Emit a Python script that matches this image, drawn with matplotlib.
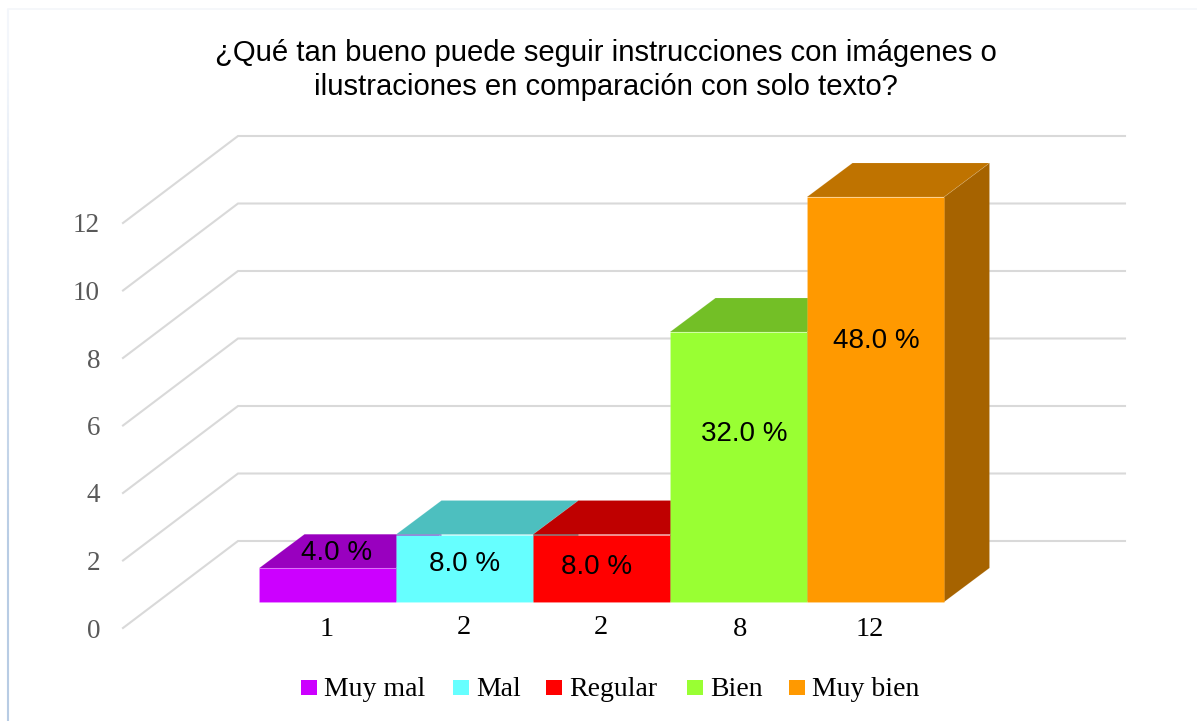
import matplotlib
matplotlib.use('Agg')
import matplotlib.pyplot as plt
import matplotlib.colors as mcolors
from matplotlib.patches import Polygon, Rectangle
from matplotlib.transforms import Affine2D

# Data
categories = ['Muy mal', 'Mal', 'Regular', 'Bien', 'Muy bien']
counts = [1, 2, 2, 8, 12]
percents = [4.0, 8.0, 8.0, 32.0, 48.0]
y_ticks = [0, 2, 4, 6, 8, 10, 12]
front_colors = ['#CC00FF', '#66FFFF', '#FF0000', '#99FF33', '#FF9900']
top_colors = ['#9900BF', '#4DBFBF', '#BF0000', '#73BF26', '#BF7300']
side_colors = ['#8500A6', '#42A6A6', '#A60000', '#63A621', '#A66300']

W, H = 1197, 721
BAR_PX = 137.0    # width of one category
UNIT_PX = 33.75   # height of one value unit
LEFT_PX = 259.0   # left edge of first bar
BASE_PX = 602.0   # y of value 0 on the bars front plane

fig = plt.figure(figsize=(W / 100, H / 100), dpi=100)
ax = fig.add_axes([0, 0, 1, 1])
ax.set_xlim(-LEFT_PX / BAR_PX - 0.5, (W - LEFT_PX) / BAR_PX - 0.5)
ax.set_ylim((BASE_PX - H) / UNIT_PX, BASE_PX / UNIT_PX)
ax.axis('off')

# pixel transform for the things that are only layout
px = Affine2D().scale(1, -1).translate(0, H)

# frame of the slide, fades out towards the top
for y in range(9, H, 8):
    t = min(max((y - 60) / 480, 0), 1)
    c = (1 - t) * mcolors.to_rgb('#F3F6FB')[0], (1 - t) * mcolors.to_rgb('#F3F6FB')[1], (1 - t) * mcolors.to_rgb('#F3F6FB')[2]
    c = tuple(ci + t * bi for ci, bi in zip(c, mcolors.to_rgb('#B8CCE4')))
    ax.plot([8, 8], [y, y + 8], color=c, lw=1.5, transform=px, zorder=1, solid_capstyle='butt')
ax.plot([8, 1197], [9, 9], color='#F4F6FA', lw=1.2, transform=px, zorder=1)

# depth of the bars and of the chart box, in data units
dx = 45.5 / BAR_PX
dy = 34.0 / UNIT_PX
wall_left = (238 - LEFT_PX) / BAR_PX - 0.5
wall_right = (1125 - LEFT_PX) / BAR_PX - 0.5
front_left = (123 - LEFT_PX) / BAR_PX - 0.5
wall_off = (BASE_PX - 541) / UNIT_PX
front_off = (BASE_PX - 628) / UNIT_PX

grid_color = '#D9D9D9'
for v in y_ticks:
    ax.plot([front_left, wall_left, wall_right],
            [v + front_off, v + wall_off, v + wall_off],
            color=grid_color, lw=1.5, zorder=2, solid_joinstyle='miter')
    # labels sit a little under the end of the line
    ax.text(front_left - 23 / BAR_PX, v + front_off - 3 / UNIT_PX, str(v), ha='right', va='center',
            fontsize=19.5, family='Liberation Serif', color='#595959')

# bars drawn left to right so each one covers the previous side
edge = (1, 1, 1, 0.12)
for i, v in enumerate(counts):
    x0, x1 = i - 0.5, i + 0.5
    ax.add_patch(Polygon([(x1, 0), (x1 + dx, dy), (x1 + dx, v + dy), (x1, v)],
                         fc=side_colors[i], ec=edge, lw=0.6, zorder=3))
    ax.add_patch(Polygon([(x0, v), (x0 + dx, v + dy), (x1 + dx, v + dy), (x1, v)],
                         fc=top_colors[i], ec=edge, lw=0.6, zorder=3))
    ax.add_patch(Rectangle((x0, 0), 1, v, fc=front_colors[i], ec=edge, lw=0.6, zorder=3))

# data labels, placed by hand like in the original
label_pos = [(337, 553), (465, 564), (597, 567), (744, 434), (876, 341)]
for p, (lx, ly) in zip(percents, label_pos):
    ax.text(lx, ly, f'{p:.1f} %', transform=px, ha='center', va='center',
            fontsize=20, family='Liberation Sans', color='black', zorder=5)

# category row shows the counts
count_pos = [(327, 630), (464, 627), (601, 627), (740, 629), (870, 629)]
for c, (lx, ly) in zip(counts, count_pos):
    ax.text(lx, ly, str(c), transform=px, ha='center', va='center',
            fontsize=20.5, family='Liberation Serif', color='black')

# legend
legend_x = [301, 453, 546, 687, 789]
for name, col, lx in zip(categories, front_colors, legend_x):
    ax.add_patch(Rectangle((lx, 680), 16, 15, fc=col, ec='none', transform=px))
    ax.text(lx + 23, 690, name, transform=px, ha='left', va='center',
            fontsize=20, family='Liberation Serif', color='black')

ax.text(606, 53, '¿Qué tan bueno puede seguir instrucciones con imágenes o', transform=px,
        ha='center', va='center', fontsize=21.1, family='Liberation Sans', color='black')
ax.text(606, 87, 'ilustraciones en comparación con solo texto?', transform=px,
        ha='center', va='center', fontsize=21.1, family='Liberation Sans', color='black')

fig.savefig('out.png', dpi=100)
